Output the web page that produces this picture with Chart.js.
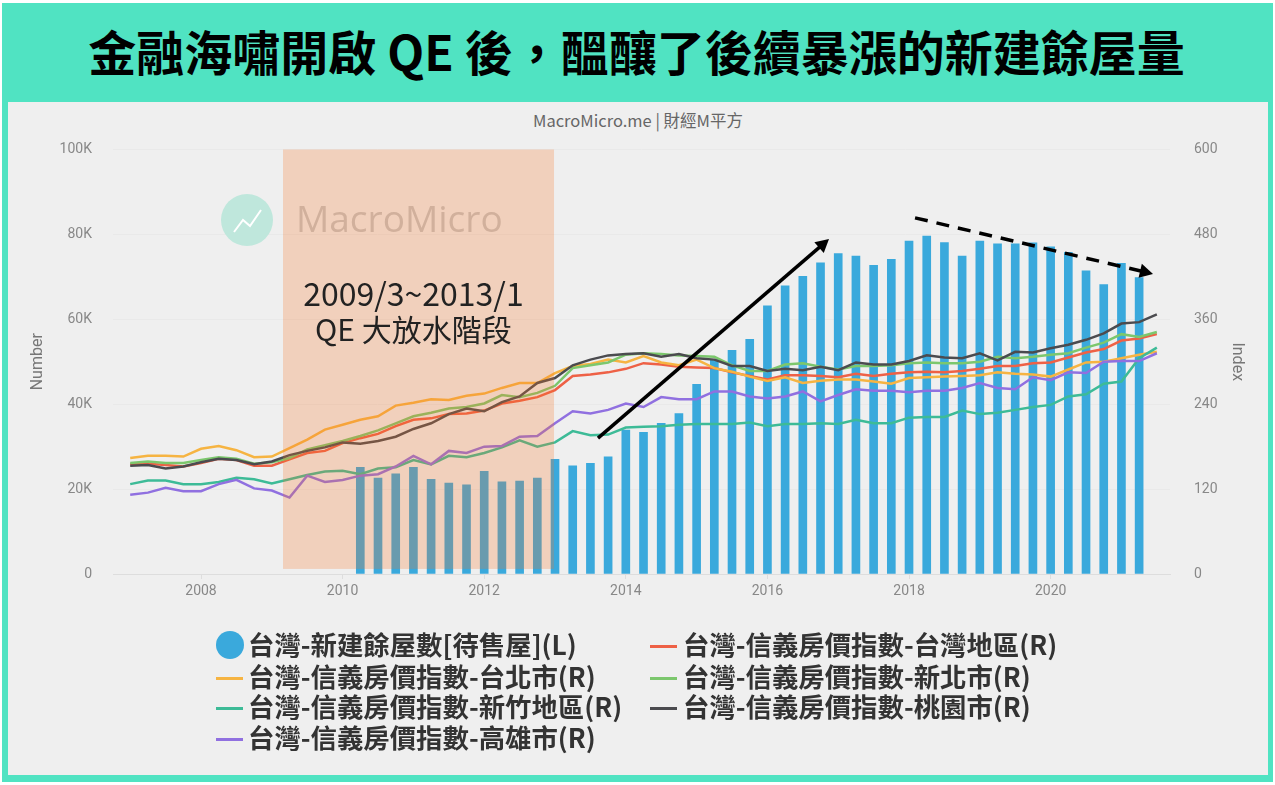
<!DOCTYPE html>
<html>
<head>
<meta charset="utf-8">
<title>金融海嘯開啟 QE 後</title>
<script src="https://cdn.jsdelivr.net/npm/chart.js@4"></script>
<style>
    html, body { margin: 0; padding: 0; background: #ffffff; }
    #page { position: relative; width: 1275px; height: 785px; overflow: hidden; font-family: "Noto Sans CJK TC", sans-serif; }
    #frame { position: absolute; left: 2px; top: 3px; width: 1271px; height: 779px; background: #50e3c2; }
    #panel { position: absolute; left: 8px; top: 102px; width: 1260px; height: 673px; background: #efefef; }
    #headline { position: absolute; left: 0; top: 18px; width: 1273px; text-align: center; font-size: 48px; line-height: 64px; font-weight: 700; color: #000000; white-space: pre; }
    #source { position: absolute; left: 0; top: 109px; width: 1276px; text-align: center; font-size: 16.5px; line-height: 22px; color: #666666; }
    #chart { position: absolute; left: 0; top: 0; }
    .legend-item { position: absolute; height: 32px; line-height: 32px; font-size: 26.4px; font-weight: 700; color: #333333; white-space: pre; }
    .legend-key { position: absolute; }
</style>
</head>
<body>
<div id="page">
    <div id="frame"></div>
    <div id="panel"></div>
    <div id="headline">金融海嘯開啟 QE 後，醞釀了後續暴漲的新建餘屋量</div>
    <div id="source">MacroMicro.me | 財經M平方</div>
    <canvas id="chart" width="1275" height="785"></canvas>
</div>
<script>
// Quarterly dates on the x axis, 2007 to mid 2021
const quarters = [
    2007, 2007.25, 2007.5, 2007.75, 2008, 2008.25, 2008.5, 2008.75,
    2009, 2009.25, 2009.5, 2009.75, 2010, 2010.25, 2010.5, 2010.75,
    2011, 2011.25, 2011.5, 2011.75, 2012, 2012.25, 2012.5, 2012.75,
    2013, 2013.25, 2013.5, 2013.75, 2014, 2014.25, 2014.5, 2014.75,
    2015, 2015.25, 2015.5, 2015.75, 2016, 2016.25, 2016.5, 2016.75,
    2017, 2017.25, 2017.5, 2017.75, 2018, 2018.25, 2018.5, 2018.75,
    2019, 2019.25, 2019.5, 2019.75, 2020, 2020.25, 2020.5, 2020.75,
    2021, 2021.25, 2021.5
];
const yearTicks = [2008, 2010, 2012, 2014, 2016, 2018, 2020];

// Unsold new homes (left axis), starts at 2010.25
const barQuarters = [
    2010.25, 2010.5, 2010.75, 2011, 2011.25, 2011.5, 2011.75, 2012, 2012.25,
    2012.5, 2012.75, 2013, 2013.25, 2013.5, 2013.75, 2014, 2014.25, 2014.5,
    2014.75, 2015, 2015.25, 2015.5, 2015.75, 2016, 2016.25, 2016.5, 2016.75,
    2017, 2017.25, 2017.5, 2017.75, 2018, 2018.25, 2018.5, 2018.75, 2019,
    2019.25, 2019.5, 2019.75, 2020, 2020.25, 2020.5, 2020.75, 2021, 2021.25
];
const unsoldHomes = [
    25100, 22600, 23600, 25100, 22300, 21400, 21000, 24200, 21700,
    21900, 22600, 27000, 25500, 26100, 27600, 33900, 33400, 35500,
    37800, 44700, 50500, 52700, 55300, 63200, 67900, 70100, 73300,
    75500, 74900, 72700, 74100, 78400, 79600, 78100, 74900, 78400,
    77800, 77800, 78000, 77100, 75800, 71400, 68200, 73200, 69800
];

// Sinyi house price index (right axis)
const taiwanIndex = [
    155, 156, 154, 152, 157, 163, 161, 153, 153, 162, 171, 174, 185,
    192, 198, 209, 218, 220, 226, 227, 231, 241, 245, 250, 260,
    280, 282, 285, 290, 298, 296, 293, 292, 291, 285, 280, 275, 281, 281,
    280, 278, 283, 280, 283, 285, 286, 285, 287,
    290, 294, 294, 298, 299, 306, 313, 318, 330, 333, 339
];
const taipeiIndex = [
    164, 167, 167, 166, 177, 181, 175, 165, 166, 178, 190, 204, 211,
    218, 223, 238, 242, 247, 246, 252, 255, 263, 270, 270, 284,
    294, 297, 303, 299, 308, 299, 295, 303, 291, 286, 279, 273, 278, 270,
    273, 275, 275, 272, 269, 277, 278, 279, 280,
    281, 285, 283, 282, 279, 289, 299, 300, 305, 310, 314
];
const newTaipeiIndex = [
    157, 159, 157, 157, 161, 165, 163, 156, 158, 164, 176, 182, 188,
    195, 203, 213, 223, 228, 234, 236, 241, 253, 250, 256, 266,
    291, 295, 299, 310, 312, 311, 309, 308, 307, 295, 287, 287, 296, 298,
    293, 289, 294, 294, 295, 298, 299, 298, 298,
    300, 307, 305, 307, 310, 312, 320, 327, 339, 335, 342
];
const hsinchuIndex = [
    127, 132, 132, 127, 127, 130, 136, 134, 128, 134, 140, 145, 146,
    141, 149, 151, 161, 155, 167, 165, 171, 179, 189, 180, 186,
    202, 196, 197, 207, 208, 209, 211, 212, 212, 212, 214, 209, 212, 212,
    213, 212, 218, 213, 213, 221, 222, 222, 231,
    226, 228, 232, 236, 239, 251, 254, 269, 272, 305, 320
];
const taoyuanIndex = [
    153, 154, 149, 152, 158, 163, 161, 155, 159, 168, 174, 179, 186,
    184, 188, 194, 205, 213, 226, 234, 230, 243, 251, 270, 277,
    295, 303, 309, 311, 312, 307, 311, 305, 303, 294, 294, 287, 290, 288,
    293, 288, 299, 296, 296, 301, 309, 306, 305,
    312, 302, 314, 313, 319, 324, 331, 340, 354, 356, 367
];
const kaohsiungIndex = [
    112, 115, 122, 117, 117, 127, 133, 121, 118, 108, 139, 130, 133,
    139, 141, 152, 167, 155, 174, 171, 180, 181, 194, 195, 213,
    230, 227, 232, 241, 236, 250, 247, 247, 258, 258, 251, 248, 251, 258,
    244, 253, 261, 259, 259, 257, 259, 259, 263,
    270, 263, 261, 278, 274, 285, 284, 300, 301, 301, 312
];

const lineSeries = [taiwanIndex, taipeiIndex, newTaipeiIndex, hsinchuIndex, taoyuanIndex, kaohsiungIndex];
const lineNames = [
    '台灣-信義房價指數-台灣地區(R)',
    '台灣-信義房價指數-台北市(R)',
    '台灣-信義房價指數-新北市(R)',
    '台灣-信義房價指數-新竹地區(R)',
    '台灣-信義房價指數-桃園市(R)',
    '台灣-信義房價指數-高雄市(R)'
];
const lineColors = ['#ee6146', '#f6b442', '#7cc76d', '#3dbb97', '#4b4b4f', '#9070e0'];
const barName = '台灣-新建餘屋數[待售屋](L)';
const barColor = '#3aa9dc';

const leftTickLabels = { 0: '0', 20000: '20K', 40000: '40K', 60000: '60K', 80000: '80K', 100000: '100K' };

// Annotations, in axis units
const qePeriod = [2009.158, 2012.986];
const qeBoxBottom = 1200;
const qeLabels = ['2009/3~2013/1', 'QE 大放水階段'];
const qeLabelYear = 2011;
const riseArrow = [[2013.607, 32000], [2016.87, 78900]];
const fallArrow = [[2018.085, 83900], [2021.446, 70700]];

const legendSlots = [
    { left: 216, top: 628, text: 248, name: barName, color: barColor, dot: true },
    { left: 650, top: 628, text: 683, name: lineNames[0], color: lineColors[0] },
    { left: 216, top: 660, text: 248, name: lineNames[1], color: lineColors[1] },
    { left: 650, top: 660, text: 683, name: lineNames[2], color: lineColors[2] },
    { left: 216, top: 690, text: 248, name: lineNames[3], color: lineColors[3] },
    { left: 650, top: 690, text: 683, name: lineNames[4], color: lineColors[4] },
    { left: 216, top: 721, text: 248, name: lineNames[5], color: lineColors[5] }
];

function renderLegend() {
    const page = document.getElementById('page');
    legendSlots.forEach((slot) => {
        const key = document.createElement('div');
        key.className = 'legend-key';
        key.style.left = `${slot.left}px`;
        key.style.background = slot.color;
        if (slot.dot) {
            key.style.top = `${slot.top + 3}px`;
            key.style.width = '28px';
            key.style.height = '28px';
            key.style.borderRadius = '50%';
        } else {
            key.style.top = `${slot.top + 17}px`;
            key.style.width = '27px';
            key.style.height = '3px';
        }
        page.appendChild(key);

        const label = document.createElement('div');
        label.className = 'legend-item';
        label.style.left = `${slot.text}px`;
        label.style.top = `${slot.top}px`;
        label.textContent = slot.name;
        page.appendChild(label);
    });
}

function drawArrow(ctx, from, to, dashed) {
    const angle = Math.atan2(to[1] - from[1], to[0] - from[0]);
    const head = 15;
    ctx.save();
    ctx.strokeStyle = '#000000';
    ctx.fillStyle = '#000000';
    ctx.lineWidth = 3.5;
    if (dashed) {
        ctx.setLineDash([13, 9]);
    }
    ctx.beginPath();
    ctx.moveTo(from[0], from[1]);
    ctx.lineTo(to[0] - Math.cos(angle) * head * 0.7, to[1] - Math.sin(angle) * head * 0.7);
    ctx.stroke();
    ctx.setLineDash([]);
    ctx.beginPath();
    ctx.moveTo(to[0], to[1]);
    ctx.lineTo(to[0] - head * Math.cos(angle - 0.5), to[1] - head * Math.sin(angle - 0.5));
    ctx.lineTo(to[0] - head * Math.cos(angle + 0.5), to[1] - head * Math.sin(angle + 0.5));
    ctx.closePath();
    ctx.fill();
    ctx.restore();
}

// Logo and site name behind the marks
const watermarkPlugin = {
    id: 'watermark',
    beforeDatasetsDraw(chart) {
        const ctx = chart.ctx;
        ctx.save();
        ctx.fillStyle = '#bfe7dc';
        ctx.beginPath();
        ctx.arc(247, 220, 26, 0, Math.PI * 2);
        ctx.fill();
        ctx.strokeStyle = '#ffffff';
        ctx.lineWidth = 2;
        ctx.beginPath();
        ctx.moveTo(234, 232);
        ctx.lineTo(243, 220);
        ctx.lineTo(250, 226);
        ctx.lineTo(261, 210);
        ctx.stroke();
        ctx.fillStyle = '#c4c4c4';
        ctx.font = '37px "Open Sans", sans-serif';
        ctx.textAlign = 'left';
        ctx.textBaseline = 'middle';
        ctx.fillText('MacroMicro', 296, 221);
        ctx.restore();
    }
};

// QE period box, its caption and the two trend arrows on top of the marks
const annotationPlugin = {
    id: 'annotations',
    afterDatasetsDraw(chart) {
        const ctx = chart.ctx;
        const x = chart.scales.x;
        const y = chart.scales.yLeft;
        const boxLeft = x.getPixelForValue(qePeriod[0]);
        const boxRight = x.getPixelForValue(qePeriod[1]);
        const boxTop = y.getPixelForValue(100000);
        const boxBottom = y.getPixelForValue(qeBoxBottom);
        const labelX = x.getPixelForValue(qeLabelYear);

        ctx.save();
        ctx.fillStyle = 'rgba(247, 116, 36, 0.25)';
        ctx.fillRect(boxLeft, boxTop, boxRight - boxLeft, boxBottom - boxTop);

        ctx.fillStyle = '#222222';
        ctx.textAlign = 'center';
        ctx.textBaseline = 'middle';
        ctx.font = '32px "Noto Sans CJK TC", sans-serif';
        ctx.fillText(qeLabels[0], labelX, 294);
        ctx.font = '30px "Noto Sans CJK TC", sans-serif';
        ctx.fillText(qeLabels[1], labelX, 330);
        ctx.restore();

        const toPixels = (point) => [x.getPixelForValue(point[0]), y.getPixelForValue(point[1])];
        drawArrow(ctx, toPixels(riseArrow[0]), toPixels(riseArrow[1]), false);
        drawArrow(ctx, toPixels(fallArrow[0]), toPixels(fallArrow[1]), true);
    }
};

function renderChart() {
    const datasets = lineSeries.map((values, index) => ({
        type: 'line',
        label: lineNames[index],
        data: values.map((value, i) => ({ x: quarters[i], y: value })),
        yAxisID: 'yRight',
        borderColor: lineColors[index],
        backgroundColor: lineColors[index],
        borderWidth: 2.5,
        pointRadius: 0,
        tension: 0,
        order: lineSeries.length - index
    }));

    datasets.push({
        type: 'bar',
        label: barName,
        data: unsoldHomes.map((value, i) => ({ x: barQuarters[i], y: value })),
        yAxisID: 'yLeft',
        backgroundColor: barColor,
        barThickness: 8,
        order: 10
    });

    new Chart(document.getElementById('chart'), {
        data: { datasets },
        plugins: [watermarkPlugin, annotationPlugin],
        options: {
            responsive: false,
            animation: false,
            layout: { padding: { top: 149.5, bottom: 181 } },
            plugins: {
                legend: { display: false },
                tooltip: { enabled: false }
            },
            scales: {
                x: {
                    type: 'linear',
                    offset: false,
                    min: 2006.757,
                    max: 2021.686,
                    afterBuildTicks: (scale) => {
                        scale.ticks = yearTicks.map((value) => ({ value }));
                    },
                    afterFit: (scale) => {
                        scale.height = 30;
                    },
                    ticks: {
                        color: '#888888',
                        font: { size: 14, family: 'Roboto' },
                        padding: 4,
                        maxRotation: 0,
                        autoSkip: false,
                        callback: (value) => String(value)
                    },
                    grid: { display: true, offset: false, drawOnChartArea: false, color: '#dddddd', tickLength: 5 },
                    border: { color: '#dddddd' }
                },
                yLeft: {
                    position: 'left',
                    min: 0,
                    max: 100000,
                    afterBuildTicks: (scale) => {
                        scale.ticks = Object.keys(leftTickLabels).map((value) => ({ value: Number(value) }));
                    },
                    afterFit: (scale) => {
                        scale.width = 113;
                    },
                    ticks: {
                        color: '#888888',
                        font: { size: 14, family: 'Roboto' },
                        padding: 21,
                        callback: (value) => leftTickLabels[value]
                    },
                    grid: { color: '#e9e9e9', drawTicks: false },
                    border: { display: false },
                    title: {
                        display: true,
                        text: 'Number',
                        color: '#777777',
                        font: { size: 16, family: 'Roboto' },
                        padding: { top: 28, bottom: 0 }
                    }
                },
                yRight: {
                    position: 'right',
                    min: 0,
                    max: 600,
                    afterFit: (scale) => {
                        scale.width = 105;
                    },
                    ticks: {
                        stepSize: 120,
                        color: '#888888',
                        font: { size: 14, family: 'Roboto' },
                        padding: 24
                    },
                    grid: { drawOnChartArea: false, drawTicks: false },
                    border: { display: false },
                    title: {
                        display: true,
                        text: 'Index',
                        color: '#777777',
                        font: { size: 16, family: 'Roboto' },
                        padding: { top: 28, bottom: 0 }
                    }
                }
            }
        }
    });
}

renderLegend();
renderChart();
</script>
</body>
</html>
